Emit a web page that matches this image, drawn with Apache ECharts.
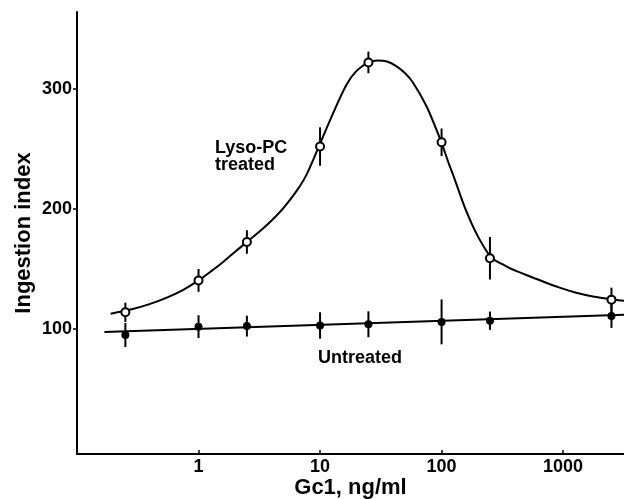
<!DOCTYPE html>
<html>
<head>
<meta charset="utf-8">
<script src="https://cdn.jsdelivr.net/npm/echarts@6/dist/echarts.min.js"></script>
<style>html,body{margin:0;padding:0;background:#fff}#c{width:624px;height:499px}</style>
</head>
<body>
<div id="c"></div>
<script>
// Doses (Gc1, ng/ml)
const doses = [0.25, 1, 2.5, 10, 25, 100, 250, 2500];
// Lyso-PC treated: means and error half-widths
const lysoMean = [114, 140.5, 172.5, 252, 322, 255.5, 159, 124.5];
const lysoErr = [8, 9.5, 9.8, 16, 9, 11.5, 17.7, 10];
// Untreated: means and error half-widths
const untreatedMean = [95, 102, 102.5, 103, 104, 106, 107, 111];
const untreatedErr = [10, 9.5, 8.7, 11, 10.8, 18.7, 7.6, 10];
// Fitted curve for Lyso-PC treated
const lysoFitX = [0.189, 0.282, 0.395, 0.542, 0.743, 1, 1.312, 1.585, 2.472, 3.162, 4.093, 5.012, 6.31, 7.69, 9.59, 12.71, 16.41, 19.95, 25.12, 29.92, 35.48, 42.36, 50.12, 57.94, 74.82, 89.13, 100, 115.9, 125.9, 158.5, 199.5, 257, 316.2, 363.1, 497.7, 707.9, 935.4, 1259, 1758, 2667, 3170];
const lysoFitY = [112.8, 116.5, 120.8, 126, 132.5, 140.5, 149.3, 155.7, 172.2, 181, 191.5, 201, 214, 228, 250, 279, 303, 315, 322, 323.6, 322.8, 319, 313, 305.5, 286, 268, 255, 236.5, 227, 199, 177, 159.5, 154, 150.8, 145, 139, 134.5, 130.5, 127.2, 124.4, 123.5];
// Fitted line for untreated
const untreatedFitX = [0.168, 3170];
const untreatedFitY = [97.5, 112];
// Tick labels
const xTickLabels = ['1', '10', '100', '1000'];
const yTickValues = [100, 200, 300];

const chart = echarts.init(document.getElementById('c'), null, {renderer: 'canvas'});
const FONT = '"Liberation Sans", Arial, Helvetica, sans-serif';

function errBars(mean, err) {
  return doses.map((d, i) => [d, mean[i] - err[i], mean[i] + err[i]]);
}
function renderErr(params, api) {
  const x = api.value(0), lo = api.value(1), hi = api.value(2);
  const p1 = api.coord([x, lo]);
  const p2 = api.coord([x, hi]);
  return {type: 'line', shape: {x1: p1[0], y1: p1[1], x2: p2[0], y2: p2[1]},
          style: {stroke: '#000', lineWidth: 2}};
}

chart.setOption({
  animation: false,
  backgroundColor: '#fff',
  grid: {left: 77, right: 0, top: 12, bottom: 45, containLabel: false, outerBoundsMode: 'none'},
  xAxis: {
    type: 'log', logBase: 10, min: 0.1, max: 3170,
    name: 'Gc1, ng/ml', nameLocation: 'middle', nameGap: 23, nameMoveOverlap: false,
    nameTextStyle: {fontFamily: FONT, fontWeight: 'bold', fontSize: 22, color: '#000'},
    axisLine: {show: true, onZero: false, lineStyle: {color: '#000', width: 2}},
    axisTick: {show: true, inside: true, length: 4, lineStyle: {color: '#000', width: 1.5}},
    axisLabel: {
      margin: 4, color: '#000', fontFamily: FONT, fontWeight: 'bold', fontSize: 18,
      showMinLabel: false, showMaxLabel: false,
      formatter: function (v) {
        const r = String(Math.round(v));
        return xTickLabels.indexOf(r) >= 0 && Math.abs(v - Math.round(v)) < 1e-6 * Math.max(1, v) ? r : '';
      }
    },
    splitLine: {show: false}, minorTick: {show: false}
  },
  yAxis: {
    type: 'value', min: -4, max: 364,
    name: 'Ingestion index', nameLocation: 'middle', nameGap: 42, nameRotate: 90, nameMoveOverlap: false,
    nameTextStyle: {fontFamily: FONT, fontWeight: 'bold', fontSize: 22, color: '#000'},
    axisLine: {show: true, onZero: false, lineStyle: {color: '#000', width: 2}},
    axisTick: {show: true, inside: false, length: 4, customValues: yTickValues, lineStyle: {color: '#000', width: 1.5}},
    axisLabel: {margin: 5, color: '#000', fontFamily: FONT, fontWeight: 'bold', fontSize: 18, customValues: yTickValues},
    splitLine: {show: false}
  },
  graphic: [
    {type: 'text', left: 215, top: 139, style: {text: 'Lyso-PC\ntreated', fill: '#000', font: 'bold 18px ' + FONT, lineHeight: 17}},
    {type: 'text', left: 318, top: 349, style: {text: 'Untreated', fill: '#000', font: 'bold 18px ' + FONT}}
  ],
  series: [
    {type: 'line', data: untreatedFitX.map((x, i) => [x, untreatedFitY[i]]), showSymbol: false, symbol: 'none',
     lineStyle: {color: '#000', width: 2}, z: 2, silent: true},
    {type: 'line', data: lysoFitX.map((x, i) => [x, lysoFitY[i]]), showSymbol: false, symbol: 'none',
     smooth: 0.3,
     lineStyle: {color: '#000', width: 2}, z: 2, silent: true},
    {type: 'custom', renderItem: renderErr, data: errBars(untreatedMean, untreatedErr), encode: {x: 0, y: [1, 2]}, z: 3, silent: true},
    {type: 'custom', renderItem: renderErr, data: errBars(lysoMean, lysoErr), encode: {x: 0, y: [1, 2]}, z: 3, silent: true},
    {type: 'scatter', data: doses.map((d, i) => [d, untreatedMean[i]]), symbol: 'circle', symbolSize: 8,
     itemStyle: {color: '#000', opacity: 1}, z: 4, silent: true},
    {type: 'scatter', data: doses.map((d, i) => [d, lysoMean[i]]), symbol: 'circle', symbolSize: 8,
     itemStyle: {color: '#fff', borderColor: '#000', borderWidth: 2, opacity: 1}, z: 5, silent: true}
  ]
});
</script>
</body>
</html>
